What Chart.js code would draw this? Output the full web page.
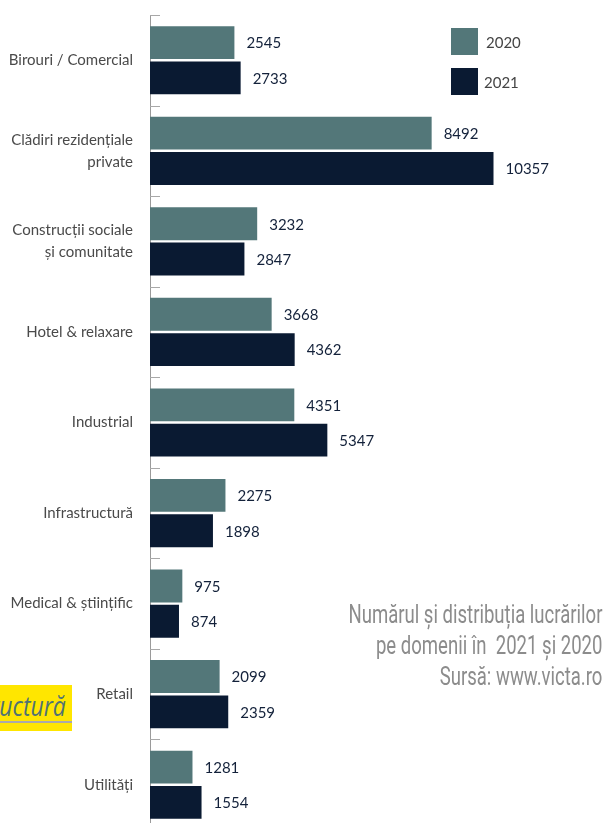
<!DOCTYPE html>
<html><head><meta charset="utf-8">
<script src="https://cdn.jsdelivr.net/npm/chart.js@4"></script>
<style>
html,body{margin:0;padding:0;background:#fff;overflow:hidden}
#wrap{position:relative;width:604px;height:823px;overflow:hidden}
canvas{position:absolute;left:0;top:0}
.sw{position:absolute;left:451px;width:27px;height:27px}
.lt{position:absolute;font-family:Lato,sans-serif;font-size:15px;color:#444;line-height:15px}
#note{position:absolute;right:2px;top:599px;text-align:right;font-family:Roboto,sans-serif;font-size:25px;line-height:31px;color:#8c8c8c;white-space:nowrap;transform-origin:right top}
#ybox{position:absolute;left:0;top:685px;width:72px;height:46px;background:#ffe600;overflow:hidden}
#ybox span{position:absolute;right:6px;top:1px;font-family:"Open Sans",sans-serif;font-style:italic;font-size:28px;color:#4f7275;white-space:nowrap;transform-origin:right top;transform:scaleX(0.82)}
#ybox i{position:absolute;left:0;top:36px;width:72px;height:2px;background:#aaa}
</style></head><body>
<div id="wrap">
<canvas id="c" width="604" height="830"></canvas>
<div class="sw" style="top:28px;background:#537779"></div>
<div class="sw" style="top:68px;background:#0a1a32"></div>
<div class="lt" style="left:486px;top:35px">2020</div>
<div class="lt" style="left:484px;top:75px">2021</div>
<div id="ybox"><span>Infrastructură</span><i></i></div>
<div id="note">Numărul și distribuția lucrărilor<br>pe domenii în &nbsp;2021 și 2020<br>Sursă: www.victa.ro</div>
</div>
<script>
const categories = [
  ["Birouri / Comercial"],
  ["Clădiri rezidențiale", "private"],
  ["Construcții sociale", "și comunitate"],
  ["Hotel & relaxare"],
  ["Industrial"],
  ["Infrastructură"],
  ["Medical & științific"],
  ["Retail"],
  ["Utilități"]
];
const values2020 = [2545, 8492, 3232, 3668, 4351, 2275, 975, 2099, 1281];
const values2021 = [2733, 10357, 2847, 4362, 5347, 1898, 874, 2359, 1554];
const seriesNames = ["2020", "2021"];

// squeeze the note text to the condensed width of the original
(function(){
  const note = document.getElementById('note');
  const w = note.getBoundingClientRect().width;
  const s = 254 / w;
  note.style.transform = 'scaleX(' + s + ')';
})();

const valueLabels = {
  id: 'valueLabels',
  afterDatasetsDraw(chart) {
    const ctx = chart.ctx;
    ctx.save();
    ctx.font = '15px Lato, sans-serif';
    ctx.fillStyle = '#13213a';
    ctx.textAlign = 'left';
    ctx.textBaseline = 'middle';
    chart.data.datasets.forEach((ds, di) => {
      const meta = chart.getDatasetMeta(di);
      meta.data.forEach((el, i) => {
        ctx.fillText(String(ds.data[i]), el.x + 12, el.y + 1);
      });
    });
    ctx.restore();
  }
};
const innerTicks = {
  id: 'innerTicks',
  afterDraw(chart) {
    const s = chart.scales.y;
    const n = chart.data.labels.length;
    const band = (s.bottom - s.top) / n;
    const ctx = chart.ctx;
    ctx.save();
    ctx.strokeStyle = '#a8a8a8';
    ctx.lineWidth = 1;
    for (let i = 0; i < n; i++) {
      const y = Math.round(s.top + i * band) + 0.5;
      ctx.beginPath();
      ctx.moveTo(s.right, y);
      ctx.lineTo(s.right + 10, y);
      ctx.stroke();
    }
    ctx.restore();
  }
};

new Chart(document.getElementById('c'), {
  type: 'bar',
  data: {
    labels: categories,
    datasets: [
      {label: seriesNames[0], data: values2020, backgroundColor: '#537779', categoryPercentage: 0.78, barPercentage: 0.93},
      {label: seriesNames[1], data: values2021, backgroundColor: '#0a1a32', categoryPercentage: 0.78, barPercentage: 0.93}
    ]
  },
  options: {
    indexAxis: 'y',
    responsive: false,
    animation: false,
    devicePixelRatio: 1,
    layout: {padding: {top: 15, right: 56, bottom: 0, left: 0}},
    plugins: {legend: {display: false}, tooltip: {enabled: false}},
    scales: {
      x: {display: false, min: 0, max: 12000},
      y: {
        grid: {display: false},
        border: {display: true, color: '#9a9a9a', width: 1},
        ticks: {padding: 9, color: '#4a4a4a', font: {family: 'Lato, sans-serif', size: 15, lineHeight: 1.45}},
        afterFit(scale) { scale.width = 150; scale.paddingTop = 0; scale.paddingBottom = 0; }
      }
    }
  },
  plugins: [valueLabels, innerTicks]
});
</script>
</body></html>
